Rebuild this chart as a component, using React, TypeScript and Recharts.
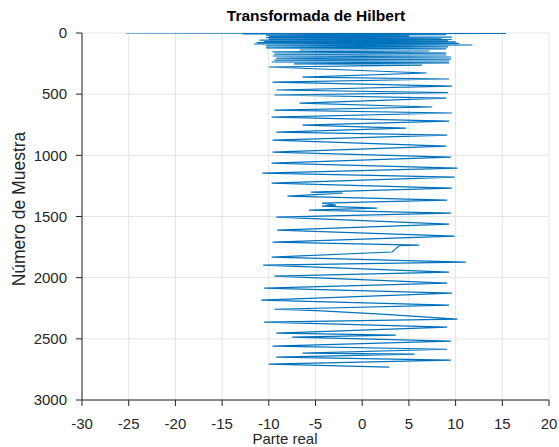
import React from 'react';
import { ScatterChart, Scatter, XAxis, YAxis, CartesianGrid } from 'recharts';

// Número de muestra (eje vertical) de cada vértice del trazo
const sampleIdx = [
  0, 3, 8, 13, 18, 23, 28, 33, 38, 43, 48, 53, 58, 63, 68, 73, 78, 84, 90, 98,
  106, 114, 122, 130, 139, 147, 155, 164, 172, 180, 188, 196, 205, 213, 221, 229, 237, 245, 253, 262,
  278, 327, 360, 376, 401, 434, 466, 487, 507, 532, 573, 605, 630, 654, 687, 720, 753, 777, 810, 834,
  875, 924, 973, 1014, 1063, 1104, 1145, 1178, 1227, 1268, 1300, 1309, 1333, 1366, 1390, 1407, 1415, 1431, 1448, 1472,
  1505, 1562, 1611, 1661, 1710, 1734, 1738, 1790, 1832, 1873, 1898, 1955, 1988, 2045, 2086, 2126, 2184, 2225, 2258, 2270,
  2300, 2339, 2364, 2405, 2454, 2470, 2486, 2519, 2560, 2585, 2617, 2625, 2650, 2674, 2707, 2732,
];

// Parte real de la transformada en cada vértice
const realPart = [
  -25.3, 15.4, -12.8, 9.0, -10.3, 5.0, -10.0, 9.6, -10.3, 8.5, -10.0, 9.6, -11.0, 9.2, -10.5, 10.0, -11.3, 10.4, -11.6, 11.8,
  -10.3, 9.2, -10.3, 9.0, -6.7, 7.2, -9.6, 9.0, -9.4, 9.0, -9.6, 9.5, -9.2, 9.5, -9.4, 9.3, -9.7, 9.3, -7.3, 6.4,
  -10.0, 6.9, -6.4, 9.3, -9.6, 9.6, -9.2, 9.2, -9.4, 9.0, -6.7, 7.5, -9.4, 9.6, -9.7, 9.3, -6.4, 4.7, -9.2, 9.1,
  -9.6, 9.0, -9.6, 9.5, -9.7, 10.2, -10.7, 9.9, -9.7, 9.6, -5.5, -2.1, -8.0, 9.1, -4.3, -2.8, -4.3, 1.6, -5.7, 9.5,
  -9.2, 9.3, -9.1, 9.9, -9.6, 6.1, 4.0, 3.2, -9.7, 11.1, -10.6, 9.3, -9.4, 9.1, -10.5, 9.6, -10.8, 9.3, -9.4, -4.8,
  2.5, 10.2, -10.5, 9.1, -9.2, 3.6, -7.5, 9.5, -9.6, 9.1, -6.4, 5.6, -9.2, 9.5, -10.0, 2.9,
];

const xTicks = [-30, -25, -20, -15, -10, -5, 0, 5, 10, 15, 20];
const yTicks = [0, 500, 1000, 1500, 2000, 2500, 3000];

const data = sampleIdx.map((s, i) => ({ x: realPart[i], y: s }));

const FONT = '"Liberation Sans", Arial, Helvetica, sans-serif';
const AXIS = '#262626';

export default function App() {
  return (
    <div
      style={{
        position: 'absolute',
        left: 0,
        top: 0,
        width: 559,
        height: 447,
        background: '#ffffff',
        fontFamily: FONT,
        overflow: 'hidden',
      }}
    >
      <ScatterChart width={559} height={447} margin={{ top: 33, right: 10, bottom: 17, left: 0 }}>
        <CartesianGrid stroke="#e4e4e4" strokeWidth={1} />
        <XAxis
          type="number"
          dataKey="x"
          domain={[-30, 20]}
          ticks={xTicks}
          interval={0}
          allowDataOverflow
          height={30}
          tickSize={6}
          tickMargin={12}
          stroke={AXIS}
          tick={{ fill: AXIS, fontSize: 15, fontFamily: FONT }}
        />
        <YAxis
          type="number"
          dataKey="y"
          domain={[0, 3000]}
          ticks={yTicks}
          interval={0}
          reversed
          allowDataOverflow
          width={82}
          tickSize={6}
          tickMargin={9}
          stroke={AXIS}
          tick={{ fill: AXIS, fontSize: 15, fontFamily: FONT }}
        />
        <Scatter
          data={data}
          line={{ stroke: '#0072BD', strokeWidth: 1.2 }}
          lineType="joint"
          shape={() => <g />}
          isAnimationActive={false}
        />
      </ScatterChart>
      <div
        style={{
          position: 'absolute',
          left: 316,
          top: 8,
          transform: 'translateX(-50%)',
          whiteSpace: 'nowrap',
          fontWeight: 'bold',
          fontSize: 15.5,
          lineHeight: '16px',
          color: '#000',
        }}
      >
        Transformada de Hilbert
      </div>
      <div
        style={{
          position: 'absolute',
          left: 285,
          top: 431,
          transform: 'translateX(-50%)',
          whiteSpace: 'nowrap',
          fontSize: 15,
          lineHeight: '15px',
          color: AXIS,
        }}
      >
        Parte real
      </div>
      <div
        style={{
          position: 'absolute',
          left: 19,
          top: 209,
          transform: 'translate(-50%, -50%) rotate(-90deg)',
          whiteSpace: 'nowrap',
          fontSize: 17.5,
          lineHeight: '18px',
          color: AXIS,
        }}
      >
        Número de Muestra
      </div>
    </div>
  );
}
